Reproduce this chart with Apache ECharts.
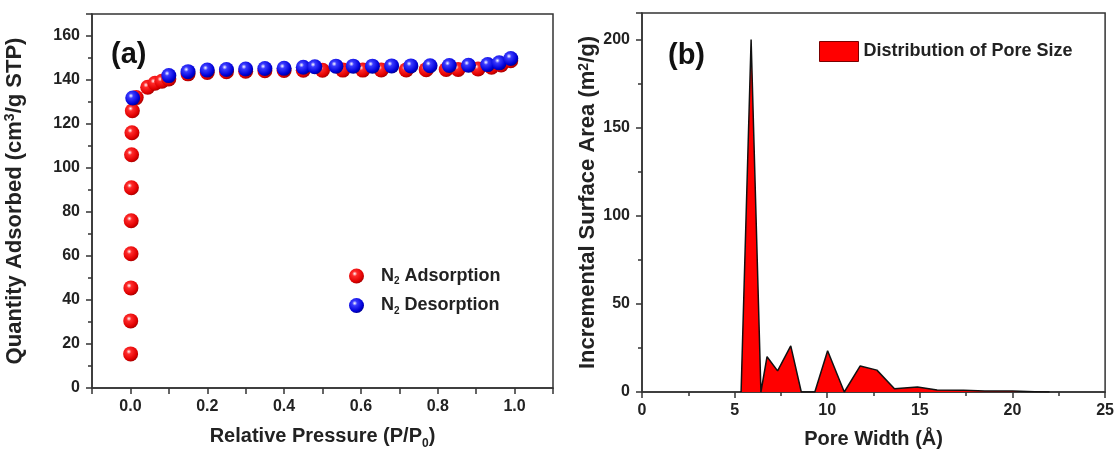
<!DOCTYPE html>
<html>
<head>
<meta charset="utf-8">
<script src="https://cdn.jsdelivr.net/npm/echarts@6/dist/echarts.min.js"></script>
<style>
html,body{margin:0;padding:0;background:#fff;}
#c{width:1117px;height:455px;}
</style>
</head>
<body>
<div id="c"></div>
<script>
// ---- Panel (a): N2 isotherm ----
const adsX = [0.0005,0.0008,0.0012,0.0016,0.002,0.0025,0.003,0.004,0.005,0.015,0.045,0.064,0.082,0.10,0.15,0.20,0.25,0.30,0.35,0.40,0.45,0.50,0.553,0.605,0.653,0.718,0.77,0.822,0.853,0.905,0.94,0.965,0.99];
const adsY = [15.5,30.5,45.5,61,76,91,106,116,126,132,136.7,138.5,139.4,140.5,142.8,143.4,143.8,144,144.2,144.3,144.4,144.4,144.5,144.5,144.6,144.6,144.7,144.8,144.8,145,145.8,146.8,148.8];
const desX = [0.006,0.10,0.15,0.20,0.25,0.30,0.35,0.40,0.45,0.48,0.535,0.58,0.63,0.68,0.73,0.78,0.83,0.88,0.93,0.96,0.99];
const desY = [131.8,142,143.8,144.5,144.8,145,145.2,145.3,145.8,146,146.3,146.3,146.3,146.4,146.4,146.5,146.6,146.7,147,147.8,149.8];
const seriesNamesA = ['N2 Adsorption','N2 Desorption'];
const leftXTickLabels = ['0.0','0.2','0.4','0.6','0.8','1.0'];
const leftYTickLabels = ['0','20','40','60','80','100','120','140','160'];

// ---- Panel (b): pore size distribution ----
const poreW = [5.35,5.89,6.42,6.75,7.32,8.03,8.6,9.33,10.02,10.92,11.78,12.68,13.63,14.87,15.93,17.36,18.5,20.0,21.2,22.0];
const poreA = [0,200,0,20,12,26.2,0,0,23.4,0,14.8,12.4,1.9,2.9,1.2,1.0,0.6,0.5,0.2,0];
const seriesNameB = 'Distribution of Pore Size';
const rightXTickLabels = ['0','5','10','15','20','25'];
const rightYTickLabels = ['0','50','100','150','200'];

const FONT = '"Liberation Sans", Arial, sans-serif';
const TXT = '#222';
const AX = '#333';

function zip(a,b){return a.map((v,i)=>[v,b[i]]);}
function ball(c0,c1,c2){
  return {type:'radial',x:0.38,y:0.35,r:0.75,colorStops:[
    {offset:0,color:'#ffffff'},{offset:0.22,color:c0},{offset:0.7,color:c1},{offset:1,color:c2}]};
}
const labelStyle = {color:TXT,fontSize:16,fontWeight:'bold',fontFamily:FONT};
function nameStyle(fs){
  return {color:TXT,fontSize:fs,fontWeight:'bold',fontFamily:FONT,
  rich:{
    sup:{fontSize:Math.round(fs*0.62),fontWeight:'bold',fontFamily:FONT,color:TXT,verticalAlign:'top',lineHeight:fs+1},
    sub:{fontSize:Math.round(fs*0.62),fontWeight:'bold',fontFamily:FONT,color:TXT,verticalAlign:'bottom',lineHeight:fs+7}
  }};
}

const chart = echarts.init(document.getElementById('c'),null,{renderer:'canvas'});
chart.setOption({
  backgroundColor:'#fff',
  animation:false,
  grid:[
    {left:92,top:14,width:461,height:378,show:true,borderColor:AX,borderWidth:1.5,backgroundColor:'transparent'},
    {left:642,top:13,width:466,height:379,show:true,borderColor:AX,borderWidth:1.5,backgroundColor:'transparent'}
  ],
  xAxis:[
    {gridIndex:0,type:'value',min:-0.1,max:1.1,interval:0.1,
     name:'Relative Pressure (P/P{sub|0})',nameLocation:'middle',nameGap:35,nameTextStyle:nameStyle(20),
     axisLine:{onZero:false,lineStyle:{color:AX,width:1.5}},
     axisTick:{show:true,length:6,lineStyle:{color:AX,width:1.5}},
     splitLine:{show:false},
     axisLabel:Object.assign({margin:11,formatter:function(v){
        const s=(Math.round(v*10)/10).toFixed(1);
        return leftXTickLabels.indexOf(s)>=0 && Math.abs(v-parseFloat(s))<1e-6 ? s : '';
     }},labelStyle)},
    {gridIndex:1,type:'value',min:0,max:25,interval:5,
     name:'Pore Width (Å)',nameLocation:'middle',nameGap:37,nameTextStyle:nameStyle(20),
     axisLine:{onZero:false,lineStyle:{color:AX,width:1.5}},
     axisTick:{show:true,length:6,lineStyle:{color:AX,width:1.5}},
     minorTick:{show:true,splitNumber:2,length:4,lineStyle:{color:AX,width:1.5}},
     splitLine:{show:false},
     axisLabel:Object.assign({margin:11,formatter:function(v){
        const s=String(Math.round(v));return rightXTickLabels.indexOf(s)>=0?s:'';}},labelStyle)}
  ],
  yAxis:[
    {gridIndex:0,type:'value',min:0,max:170,interval:20,
     name:'Quantity Adsorbed (cm{sup|3}/g STP)',nameLocation:'middle',nameGap:66,nameTextStyle:nameStyle(22),
     axisLine:{onZero:false,lineStyle:{color:AX,width:1.5}},
     axisTick:{show:true,length:6,lineStyle:{color:AX,width:1.5}},
     minorTick:{show:true,splitNumber:2,length:4,lineStyle:{color:AX,width:1.5}},
     splitLine:{show:false},
     axisLabel:Object.assign({margin:12,showMaxLabel:false,formatter:function(v){
        const s=String(Math.round(v));return leftYTickLabels.indexOf(s)>=0?s:'';}},labelStyle)},
    {gridIndex:1,type:'value',min:0,max:215,interval:50,
     name:'Incremental Surface Area (m{sup|2}/g)',nameLocation:'middle',nameGap:41,nameTextStyle:nameStyle(22),
     axisLine:{onZero:false,lineStyle:{color:AX,width:1.5}},
     axisTick:{show:true,length:6,lineStyle:{color:AX,width:1.5}},
     minorTick:{show:true,splitNumber:2,length:4,lineStyle:{color:AX,width:1.5}},
     splitLine:{show:false},
     axisLabel:Object.assign({margin:12,showMaxLabel:false,formatter:function(v){
        const s=String(Math.round(v));return rightYTickLabels.indexOf(s)>=0?s:'';}},labelStyle)}
  ],
  legend:[
    {data:seriesNamesA,orient:'vertical',left:349,top:267,padding:0,itemWidth:15,itemHeight:15,itemGap:10,
     icon:'circle',
     formatter:function(n){return n.replace('N2','N{sub|2}');},
     textStyle:{color:TXT,fontSize:18,fontWeight:'bold',fontFamily:FONT,padding:[0,0,0,12],
       rich:{sub:{fontSize:10,fontWeight:'bold',fontFamily:FONT,color:TXT,verticalAlign:'bottom',lineHeight:21}}}},
    {data:[{name:seriesNameB,icon:'rect',itemStyle:{color:'#ff0000',borderColor:'#7a0000',borderWidth:1}}],
     left:819,top:41,padding:0,itemWidth:39,itemHeight:20,
     textStyle:{color:TXT,fontSize:18,fontWeight:'bold',fontFamily:FONT}}
  ],
  graphic:[
    {type:'text',left:111,top:40,style:{text:'(a)',fontSize:29,fontWeight:'bold',fontFamily:FONT,fill:'#111'}},
    {type:'text',left:668,top:41,style:{text:'(b)',fontSize:29,fontWeight:'bold',fontFamily:FONT,fill:'#111'}}
  ],
  series:[
    {name:seriesNamesA[0],type:'scatter',xAxisIndex:0,yAxisIndex:0,symbol:'circle',symbolSize:15,
     itemStyle:{color:ball('#ff2a2a','#e00000','#8a0000'),opacity:1},
     data:zip(adsX,adsY)},
    {name:seriesNamesA[1],type:'scatter',xAxisIndex:0,yAxisIndex:0,symbol:'circle',symbolSize:15,
     itemStyle:{color:ball('#3a3aff','#0000d8','#00006a'),opacity:1},
     data:zip(desX,desY)},
    {name:seriesNameB,type:'line',xAxisIndex:1,yAxisIndex:1,symbol:'none',
     color:'#ff0000',
     lineStyle:{color:'#111',width:1.5},
     areaStyle:{color:'#ff0000',opacity:1},
     data:zip(poreW,poreA)}
  ]
});
</script>
</body>
</html>
